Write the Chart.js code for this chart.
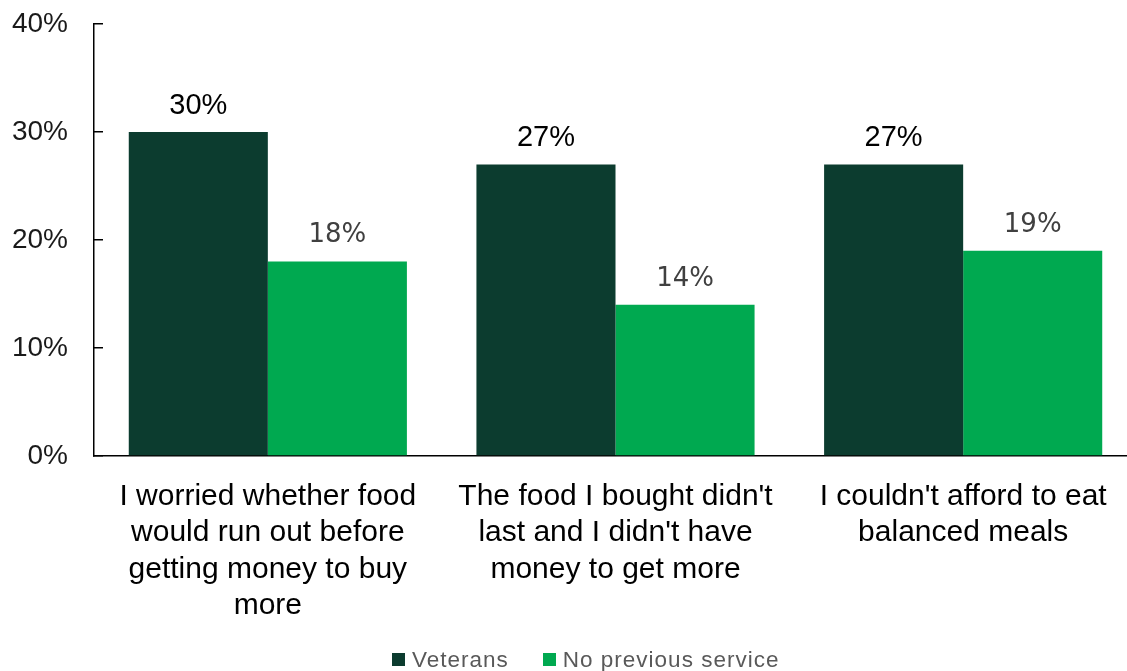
<!DOCTYPE html>
<html>
<head>
<meta charset="utf-8">
<script src="https://cdn.jsdelivr.net/npm/chart.js@4"></script>
<style>
    html, body { margin: 0; padding: 0; background: #fff; overflow: hidden; }
    #wrap { position: relative; width: 1137px; height: 671px; }
    #legend {
        position: absolute; top: 647px; left: 392px;
        font: 22.5px "Liberation Sans", Arial, sans-serif; color: #595959;
        letter-spacing: 1px; white-space: nowrap; line-height: 26px;
    }
    #legend span.box { display: inline-block; width: 13px; height: 13px; margin-right: 7px; vertical-align: 1px; }
    #legend span.item { margin-right: 34px; }
</style>
</head>
<body>
<div id="wrap">
    <canvas id="chart" width="1137" height="671"></canvas>
    <div id="legend"></div>
</div>
<script>
const categories = [
    ['I worried whether food', 'would run out before', 'getting money to buy', 'more'],
    ["The food I bought didn't", "last and I didn't have", 'money to get more'],
    ["I couldn't afford to eat", 'balanced meals']
];
const seriesNames = ['Veterans', 'No previous service'];
const veterans = [30, 27, 27];
const noService = [18, 14, 19];
const seriesColors = ['#0c3c2f', '#00a950'];
const labelColors = ['#000000', '#404040'];

// legend
const legend = document.getElementById('legend');
legend.innerHTML = seriesNames.map(function (name, i) {
    return '<span class="item"><span class="box" style="background:' + seriesColors[i] + '"></span>' + name + '</span>';
}).join('');

const valueLabels = {
    id: 'valueLabels',
    afterDatasetsDraw(chart) {
        const ctx = chart.ctx;
        ctx.save();
        ctx.textAlign = 'center';
        ctx.textBaseline = 'middle';
        chart.data.datasets.forEach(function (ds, di) {
            const meta = chart.getDatasetMeta(di);
            ctx.fillStyle = labelColors[di];
            ctx.font = di === 0 ? '29px "Liberation Sans", Arial, sans-serif' : '26px "DejaVu Sans", sans-serif';
            meta.data.forEach(function (el, i) {
                ctx.fillText(ds.data[i] + '%', el.x, el.y - 26);
            });
        });
        ctx.restore();
    }
};

new Chart(document.getElementById('chart'), {
    type: 'bar',
    data: {
        labels: categories,
        datasets: [
            { label: seriesNames[0], data: veterans, backgroundColor: seriesColors[0] },
            { label: seriesNames[1], data: noService, backgroundColor: seriesColors[1] }
        ]
    },
    options: {
        responsive: false,
        animation: false,
        layout: { padding: { top: 24, left: 0, right: 0, bottom: 0 } },
        datasets: { bar: { categoryPercentage: 0.8, barPercentage: 1 } },
        plugins: {
            legend: { display: false },
            tooltip: { enabled: false }
        },
        scales: {
            x: {
                grid: { display: false, drawTicks: false },
                border: { display: true, color: '#000', width: 1.5 },
                ticks: {
                    color: '#000',
                    padding: 22,
                    maxRotation: 0,
                    autoSkip: false,
                    font: { family: '"Liberation Sans", Arial, sans-serif', size: 30, lineHeight: 1.217 }
                },
                afterFit: function (scale) { scale.height = 215; }
            },
            y: {
                min: 0,
                max: 40,
                grid: { drawOnChartArea: false, drawTicks: true, tickLength: -9, color: '#000', lineWidth: 1.5 },
                border: { display: true, color: '#000', width: 1.5 },
                ticks: {
                    stepSize: 10,
                    color: '#1a1a1a',
                    padding: 35,
                    font: { family: '"Liberation Sans", Arial, sans-serif', size: 28 },
                    callback: function (value) { return value + '%'; }
                },
                afterFit: function (scale) {
                    scale.width = 94;
                    scale.paddingTop = 0;
                    scale.paddingBottom = 0;
                }
            }
        }
    },
    plugins: [valueLabels]
});
</script>
</body>
</html>
